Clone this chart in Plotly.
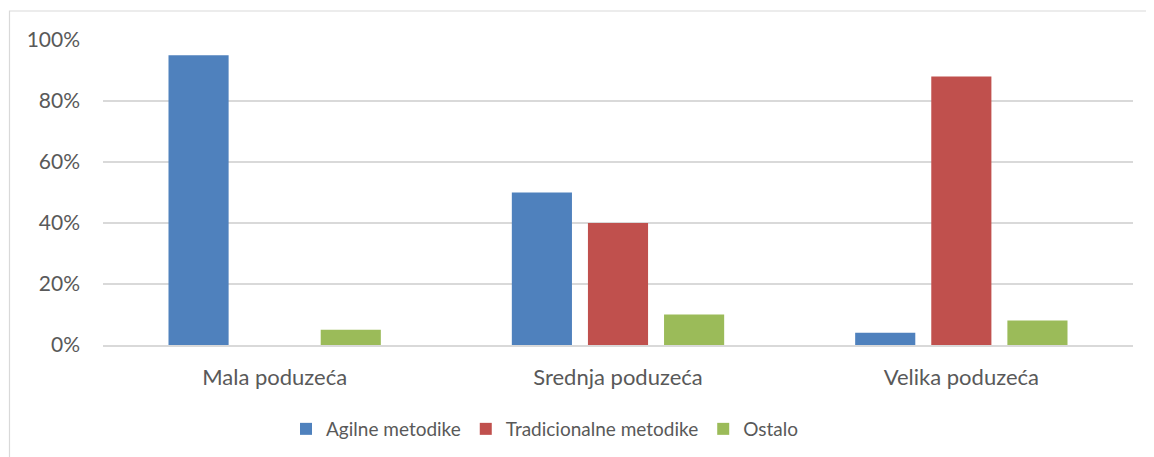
import plotly.graph_objects as go

categories = ["Mala poduzeća", "Srednja poduzeća", "Velika poduzeća"]
agilne = [0.95, 0.50, 0.04]
tradicionalne = [0.0, 0.40, 0.88]
ostalo = [0.05, 0.10, 0.08]
series_names = ["Agilne metodike", "Tradicionalne metodike", "Ostalo"]
colors = ["#4F81BD", "#C0504D", "#9BBB59"]
y_ticks = [0, 0.2, 0.4, 0.6, 0.8, 1.0]
y_tick_labels = ["0%", "20%", "40%", "60%", "80%", "100%"]

fig = go.Figure()
for name, vals, col in zip(series_names, [agilne, tradicionalne, ostalo], colors):
    fig.add_trace(go.Bar(x=categories, y=vals, name=name, marker=dict(color=col, line=dict(width=0))))

font_family = "Lato, 'Open Sans', sans-serif"
OFF = 8  # default body margin of the html page
W, H = 1154 - OFF, 457 - OFF
L, R, T, B = 103 - OFF, 21, 40 - OFF, 112
pw, ph = W - L - R, H - T - B
txt = "#595959"

fig.update_layout(
    width=W, height=H,
    margin=dict(l=L, r=R, t=T, b=B, autoexpand=False),
    paper_bgcolor="white", plot_bgcolor="white",
    barmode="group", bargap=0.335, bargroupgap=0.21,
    font=dict(family=font_family, size=21, color=txt),
    showlegend=True,
    legend=dict(orientation="h", x=(545 - 103) / pw, xanchor="center",
                y=(345 - 429) / ph, yanchor="middle",
                font=dict(size=19, color=txt), itemwidth=30,
                traceorder="normal"),
    xaxis=dict(showgrid=False, showline=True, linecolor="#d9d9d9", linewidth=1.5,
               ticks="", ticklabelstandoff=12, tickfont=dict(size=22, color=txt)),
    yaxis=dict(range=[0, 1.0], tickvals=y_ticks, ticktext=y_tick_labels,
               showgrid=True, gridcolor="#d9d9d9", gridwidth=1.5, zeroline=False,
               showline=False, ticks="", ticklabelstandoff=22,
               tickfont=dict(size=21, color=txt)),
    shapes=[dict(type="rect", xref="paper", yref="paper",
                 x0=(9.5 - 103) / pw, x1=1.3, y0=-1.0, y1=(345 - 11) / ph,
                 line=dict(color="#d9d9d9", width=1.2), fillcolor="rgba(0,0,0,0)", layer="below")],
)

fig.write_html("out.html")
